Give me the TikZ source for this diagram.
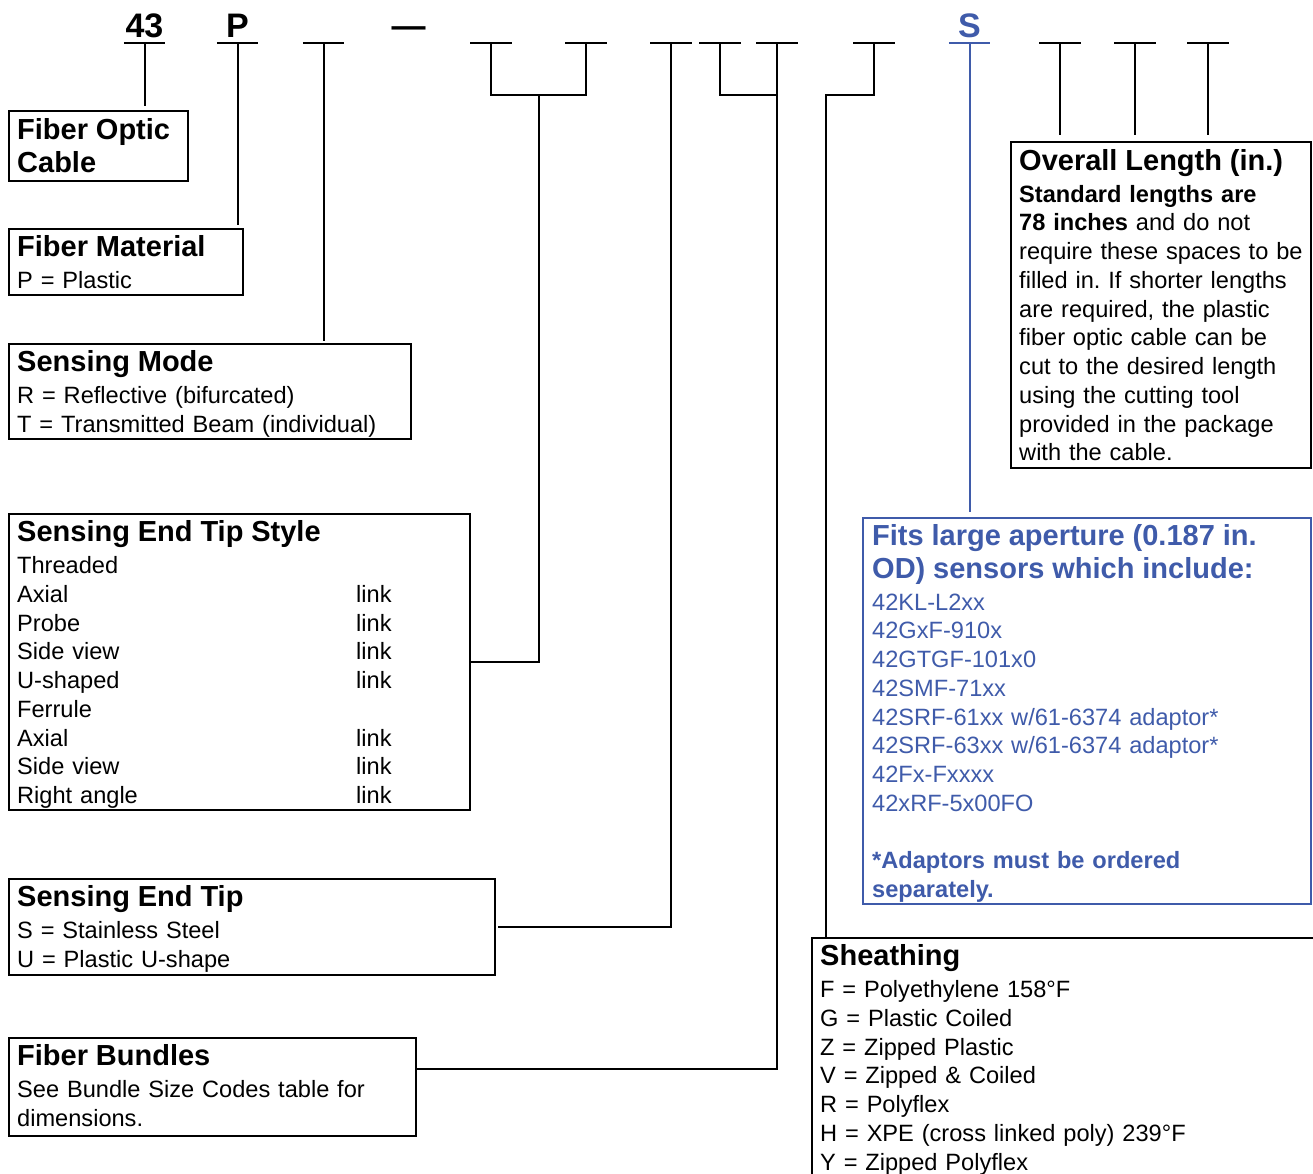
\documentclass[tikz,border=0pt]{standalone}
\usepackage{fontspec}
\setmainfont{Liberation Sans}

\definecolor{codeblue}{RGB}{63,91,170}
\newcommand{\boxtitle}[1]{{\fontsize{29}{28.75}\selectfont\bfseries #1}}
\newcommand{\linkrow}[1]{\makebox[339pt][l]{#1}link}

\begin{document}
\frenchspacing
\begin{tikzpicture}[
    x=1pt, y=-1pt,
    slot/.style={minimum width=41, minimum height=0, inner xsep=0, inner ysep=5, anchor=south, font=\fontsize{34}{34}\selectfont\bfseries},
    underline/.style={line width=2},
    wire/.style={line width=2},
    frame/.style={draw, line width=1.8, inner sep=0, outer sep=0, anchor=north west},
    boxtext/.style={anchor=base west, inner sep=0, align=left, text width=480, font=\fontsize{23.6}{28.75}\selectfont}
]
    \path[use as bounding box] (0,0) rectangle (1313,1173);
    \clip (0,0) rectangle (1313,1173);

    % Code slots
    \node[slot] (s43) at (144.5,43) {43};
    \node[slot] (sP) at (237.5,43) {P};
    \node[slot] (s3) at (323.5,43) {};
    \node[slot, minimum width=0] (dash) at (408.5,43) {\textemdash};
    \node[slot] (s4) at (491,43) {};
    \node[slot] (s5) at (586,43) {};
    \node[slot] (s6) at (671,43) {};
    \node[slot] (s7) at (720,43) {};
    \node[slot] (s8) at (777,43) {};
    \node[slot] (s9) at (874,43) {};
    \node[slot, text=codeblue] (sS) at (969.5,43) {S};
    \node[slot] (s11) at (1060,43) {};
    \node[slot] (s12) at (1135,43) {};
    \node[slot] (s13) at (1208,43) {};

    \foreach \s in {s43,sP,s3,s4,s5,s6,s7,s8,s9,s11,s12,s13}
        \draw[underline] (\s.south west) -- (\s.south east);
    \draw[underline, codeblue] (sS.south west) -- (sS.south east);

    % Boxes
    \node[frame, minimum width=179, minimum height=70] (optic) at (9,111) {};
    \node[boxtext] (opticT) at ([shift={(8,28.5)}]optic.north west)
        {\boxtitle{Fiber Optic}\\[3.75pt]\boxtitle{Cable}};

    \node[frame, minimum width=234, minimum height=66] (material) at (9,229) {};
    \node[boxtext] (materialT) at ([shift={(8,27.5)}]material.north west)
        {\boxtitle{Fiber Material}\\[3.25pt]P = Plastic};

    \node[frame, minimum width=402, minimum height=95] (mode) at (9,344) {};
    \node[boxtext] (modeT) at ([shift={(8,27.5)}]mode.north west)
        {\boxtitle{Sensing Mode}\\[3.25pt]R = Reflective (bifurcated)\\T = Transmitted Beam (individual)};

    \node[frame, minimum width=461, minimum height=296] (tipstyle) at (9,514) {};
    \node[boxtext] (tipstyleT) at ([shift={(8,27.5)}]tipstyle.north west)
        {\boxtitle{Sensing End Tip Style}\\[3.25pt]Threaded\\\linkrow{Axial}\\\linkrow{Probe}\\\linkrow{Side view}\\\linkrow{U-shaped}\\
         Ferrule\\\linkrow{Axial}\\\linkrow{Side view}\\\linkrow{Right angle}};

    \node[frame, minimum width=486, minimum height=96] (tip) at (9,879) {};
    \node[boxtext] (tipT) at ([shift={(8,27.5)}]tip.north west)
        {\boxtitle{Sensing End Tip}\\[3.25pt]S = Stainless Steel\\U = Plastic U-shape};

    \node[frame, minimum width=407, minimum height=98] (bundles) at (9,1038) {};
    \node[boxtext] (bundlesT) at ([shift={(8,27.5)}]bundles.north west)
        {\boxtitle{Fiber Bundles}\\[3.25pt]See Bundle Size Codes table for\\dimensions.};

    \node[frame, minimum width=300, minimum height=326] (overall) at (1011,142) {};
    \node[boxtext] (overallT) at ([shift={(8,28)}]overall.north west)
        {\boxtitle{Overall Length (in.)}\\[3.25pt]\textbf{Standard lengths are}\\\textbf{78 inches} and do not\\
         require these spaces to be\\filled in. If shorter lengths\\are required, the plastic\\fiber optic cable can be\\
         cut to the desired length\\using the cutting tool\\provided in the package\\with the cable.};

    \node[frame, draw=codeblue, minimum width=448, minimum height=386] (fits) at (863,518) {};
    \node[boxtext, text=codeblue] (fitsT) at ([shift={(9,27.5)}]fits.north west)
        {\boxtitle{Fits large aperture (0.187 in.}\\[3.75pt]\boxtitle{OD) sensors which include:}\\[3.25pt]
         42KL-L2xx\\42GxF-910x\\42GTGF-101x0\\42SMF-71xx\\42SRF-61xx w/61-6374 adaptor*\\42SRF-63xx w/61-6374 adaptor*\\
         42Fx-Fxxxx\\42xRF-5x00FO\\[28.75pt]\textbf{*Adaptors must be ordered}\\\textbf{separately.}};

    \node[frame, minimum width=600, minimum height=300] (sheath) at (812,938) {};
    \node[boxtext] (sheathT) at ([shift={(8,27.5)}]sheath.north west)
        {\boxtitle{Sheathing}\\[3.25pt]F = Polyethylene 158°F\\G = Plastic Coiled\\Z = Zipped Plastic\\V = Zipped \& Coiled\\
         R = Polyflex\\H = XPE (cross linked poly) 239°F\\Y = Zipped Polyflex};

    % Connectors
    \draw[wire, shorten >=5pt] (s43.south) -- (s43.south |- optic.north);
    \draw[wire, shorten >=4pt] (sP.south) -- (sP.south |- material.north);
    \draw[wire, shorten >=3pt] (s3.south) -- (s3.south |- mode.north);
    \draw[wire] (s4.south) -- ++(0,52) -| coordinate[pos=.25] (j45) (s5.south);
    \draw[wire] (j45) |- (tipstyle.east);
    \draw[wire] (s6.south) |- ([xshift=3pt]tip.east);
    \draw[wire] (s7.south) -- ++(0,52) -| (s8.south);
    \draw[wire] (s8.south) |- ([yshift=18pt]bundles.east);
    \draw[wire] (s9.south) -- ++(0,52) -| ([xshift=14pt]sheath.north west);
    \draw[wire, codeblue, shorten >=6pt] (sS.south) -- (sS.south |- fits.north);
    \foreach \s in {s11,s12,s13}
        \draw[wire, shorten >=7pt] (\s.south) -- (\s.south |- overall.north);
\end{tikzpicture}
\end{document}
